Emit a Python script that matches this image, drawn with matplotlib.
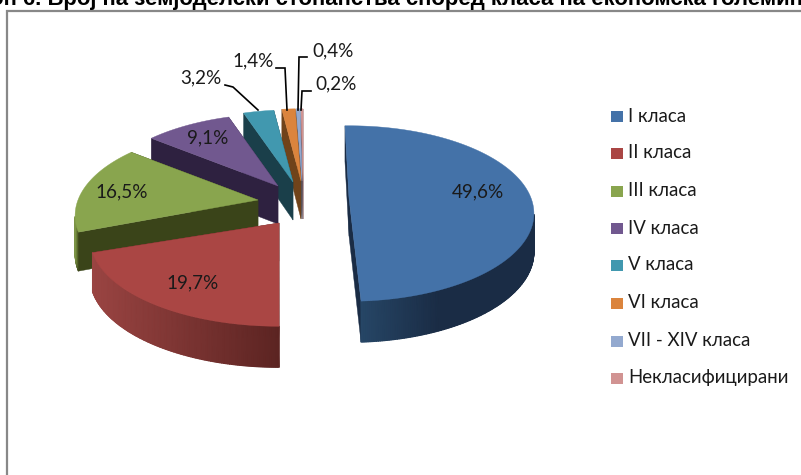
import numpy as np
import matplotlib
matplotlib.use('Agg')
import matplotlib.pyplot as plt
from matplotlib.patches import Polygon, Rectangle
from matplotlib.colors import LinearSegmentedColormap

# data
classes = ['I класа', 'II класа', 'III класа', 'IV класа', 'V класа', 'VI класа', 'VII - XIV класа', 'Некласифицирани']
shares = [49.6, 19.7, 16.5, 9.1, 3.2, 1.4, 0.4, 0.2]
share_labels = ['49,6%', '19,7%', '16,5%', '9,1%', '3,2%', '1,4%', '0,4%', '0,2%']
colors = ['#4472a8', '#aa4644', '#89a54e', '#71588f', '#4198af', '#db843d', '#93a9cf', '#d19392']
side_dark = ['#1a2c45', '#5c2422', '#3a4419', '#2e2140', '#1a3f4a', '#70431a', '#4a5a78', '#7a5050']
rim_left = ['#264666', '#9a4442', '#7c9446', '#2e2140', '#1a3f4a', '#70431a', '#4a5a78', '#7a5050']
title = 'Графикон 6. Број на земјоделски стопанства според класа на економска големина'

# layout, pixels
apex = [(349, 198), (279, 223), (258, 200), (278, 186), (293, 182), (301, 181), (302, 181), (303, 181)]
wedge_rot = [-1.5, 1.6, 0, 0, 0, 0, 0, 0]
wedge_rx = [182, 186, 180, 180, 180, 180, 180, 180]
label_pos = [(478, 192), (193, 283), (122, 192), (208, 138), (201, 78), (253, 61), (333, 51), (336, 84)]
leaders = {4: [(225, 85), (233, 87), (258, 110)],
           5: [(276, 68), (285, 68), (287, 110)],
           6: [(307, 57), (299, 57), (298, 110)],
           7: [(311, 91), (302, 91), (301, 110)]}
legend_y = [116, 153, 191, 228, 265, 303, 341, 378]
Ry, k, depth = 85, 0.177, 38


def proj(a, theta, rx):
    s, c = np.sin(np.radians(theta)), np.cos(np.radians(theta))
    d = 1 + k * c
    return a[0] + rx * s / d, a[1] - Ry * c / d, depth / d ** 0.4


fig = plt.figure(figsize=(8.01, 4.75), dpi=100)
ax = fig.add_axes([0, 0, 1, 1])
ax.set_xlim(0, 801)
ax.set_ylim(475, 0)
ax.axis('off')

plt.rcParams['font.family'] = ['Lato', 'DejaVu Sans']

# frame
ax.plot([7, 7, 801], [475, 11, 11], color='#888888', lw=1.6, solid_joinstyle='miter')

edges = np.cumsum([0] + shares) / sum(shares) * 360

for i in range(len(shares) - 1, -1, -1):
    z = 2 + (7 - i) * 0.1
    t = np.linspace(edges[i], edges[i + 1], max(int(edges[i + 1] - edges[i]), 2) * 2) + wedge_rot[i]
    x, y, h = proj(apex[i], t, wedge_rx[i])
    ax0, ay0 = apex[i]
    # cut faces
    for j in [0, -1]:
        ax.add_patch(Polygon([(ax0, ay0), (x[j], y[j]), (x[j], y[j] + h[j]), (ax0, ay0 + depth)],
                             fc=side_dark[i], ec=side_dark[i], lw=0.3, zorder=z))
    # rim, only the part that faces the viewer
    front = np.cos(np.radians(t)) < -k
    if front.sum() > 1:
        xf, yf, hf = x[front], y[front], h[front]
        X = np.vstack([xf, xf])
        Y = np.vstack([yf, yf + hf])
        C = (X - xf.min()) / max(xf.max() - xf.min(), 1)
        cmap = LinearSegmentedColormap.from_list('rim', [rim_left[i], side_dark[i]])
        if i == 0:
            C = np.clip(C / 0.45, 0, 1)
        ax.pcolormesh(X, Y, C, shading='gouraud', cmap=cmap, vmin=0, vmax=1, zorder=z, rasterized=False)
    # top
    ax.add_patch(Polygon(np.column_stack([np.r_[ax0, x], np.r_[ay0, y]]), fc=colors[i], ec=colors[i], lw=0.3,
                         zorder=z + 0.05))

for i, txt in enumerate(share_labels):
    ax.text(label_pos[i][0], label_pos[i][1], txt, ha='center', va='center', fontsize=13.6, color='#1a1a1a', zorder=5)

for i, pts in leaders.items():
    p = np.array(pts)
    ax.plot(p[:, 0], p[:, 1], color='black', lw=1.2, zorder=4, solid_joinstyle='miter')

for i, name in enumerate(classes):
    ax.add_patch(Rectangle((611, legend_y[i] - 5.5), 11.5, 11, fc=colors[i], ec='none', zorder=3))
    ax.text(628, legend_y[i], name, ha='left', va='center', fontsize=13.4, color='#1a1a1a')

ax.text(-91, 4.5, title, ha='left', va='baseline', fontsize=15.95, fontweight='bold', family='Liberation Sans', color='black')

fig.savefig('out.png', dpi=100)
